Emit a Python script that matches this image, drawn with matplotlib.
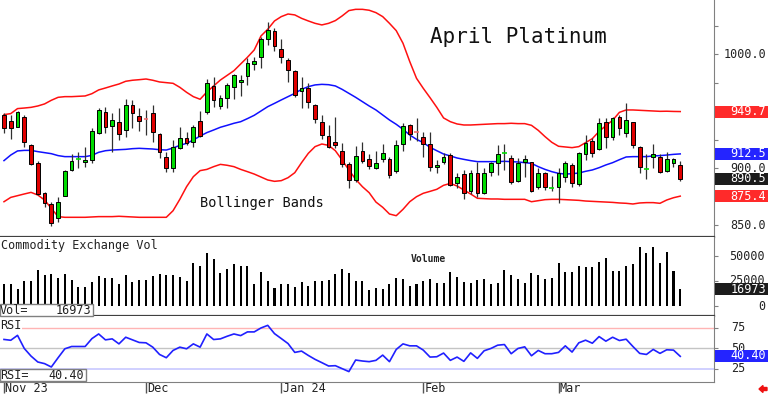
import numpy as np
import matplotlib.pyplot as plt
import matplotlib.transforms as mtransforms
from matplotlib.patches import Rectangle, FancyArrow

# April platinum futures, daily bars 1 Nov 2023 .. end of Mar 2024
opens = [946.7, 941.4, 936.5, 944.6, 920.3, 904.8, 878.4, 868.2, 855.9, 875.8,
         898.4, 907.7, 905.1, 907.1, 931.2, 949.0, 937.0, 940.8, 933.5, 955.2,
         945.8, 943.0, 948.7, 929.7, 910.1, 900.4, 917.4, 926.2, 923.3, 941.4,
         949.6, 972.2, 954.9, 961.9, 971.0, 975.4, 980.9, 991.2, 997.4, 1013.1,
         1020.8, 1004.7, 995.0, 985.4, 967.8, 970.1, 955.5, 940.2, 928.2, 923.3,
         915.3, 903.3, 889.6, 915.3, 907.7, 899.8, 907.7, 907.7, 897.5, 920.9,
         937.9, 932.0, 927.1, 920.9, 900.7, 905.1, 911.5, 886.7, 894.8, 880.2,
         896.0, 878.4, 896.3, 904.2, 913.4, 908.6, 888.7, 905.7, 905.1, 883.1,
         895.4, 882.7, 883.1, 892.5, 902.7, 885.8, 912.4, 924.1, 916.5, 940.8,
         927.1, 945.2, 931.2, 940.2, 918.9, 898.9, 910.1, 910.1, 897.5, 904.8,
         902.7]
highs = [948.1, 946.7, 950.2, 946.7, 920.9, 906.0, 879.3, 870.5, 874.3, 898.4,
         912.4, 914.5, 918.9, 935.0, 952.6, 954.0, 948.1, 952.6, 960.4, 959.9,
         952.6, 951.1, 955.5, 931.2, 914.5, 924.7, 936.5, 932.0, 937.9, 950.2,
         978.0, 979.8, 964.3, 974.5, 982.7, 981.8, 996.5, 997.9, 1015.5, 1028.7,
         1022.8, 1013.1, 996.5, 986.2, 980.4, 975.1, 956.4, 946.7, 937.9, 945.2,
         921.8, 905.1, 919.4, 923.3, 912.4, 915.3, 921.2, 909.5, 924.7, 939.4,
         938.5, 943.8, 932.0, 932.0, 907.1, 913.6, 913.6, 895.4, 898.4, 898.4,
         905.7, 899.8, 905.7, 920.3, 920.9, 911.5, 908.6, 911.5, 905.7, 899.8,
         896.9, 893.1, 899.8, 906.3, 904.2, 914.5, 929.1, 926.2, 943.8, 943.8,
         945.2, 946.7, 957.5, 940.8, 919.7, 912.4, 920.9, 912.4, 914.5, 908.6,
         906.3]
lows = [931.2, 925.3, 935.9, 918.9, 902.7, 876.4, 865.5, 849.4, 853.0, 875.5,
        897.2, 899.8, 901.3, 904.2, 930.0, 930.6, 913.9, 924.7, 927.1, 935.0,
        932.9, 929.1, 923.3, 908.6, 896.9, 896.3, 916.5, 920.3, 918.9, 927.1,
        947.6, 954.0, 952.0, 952.6, 960.7, 963.4, 973.1, 986.2, 987.7, 1008.2,
        1003.2, 992.1, 976.0, 962.8, 952.6, 953.1, 939.4, 925.3, 917.4, 917.4,
        901.3, 882.2, 888.1, 904.2, 899.2, 899.2, 905.7, 891.6, 896.0, 915.3,
        924.7, 924.1, 910.1, 897.8, 896.0, 903.3, 884.3, 882.2, 872.9, 877.0,
        874.9, 877.0, 893.4, 893.9, 898.4, 886.1, 888.1, 892.5, 879.3, 881.7,
        880.8, 880.2, 869.6, 888.1, 883.7, 884.6, 907.1, 909.5, 915.9, 917.4,
        924.7, 929.1, 927.7, 917.4, 895.4, 890.4, 899.8, 895.4, 896.9, 901.3,
        889.0]
closes = [935.6, 935.6, 949.0, 923.3, 903.6, 877.3, 869.1, 852.1, 870.2, 897.8,
          906.6, 908.0, 907.1, 932.6, 951.1, 936.5, 942.3, 929.7, 955.5, 948.1,
          941.7, 942.9, 931.5, 913.9, 900.4, 918.9, 926.2, 921.8, 936.5, 928.2,
          974.5, 959.9, 961.3, 973.1, 981.8, 977.4, 992.1, 994.1, 1013.7, 1021.4,
          1007.6, 997.4, 986.2, 964.3, 970.4, 958.4, 943.2, 929.1, 918.9, 920.3,
          903.3, 889.6, 911.0, 906.3, 902.2, 904.2, 913.6, 893.9, 920.0, 937.0,
          930.0, 931.6, 921.2, 901.3, 902.7, 910.1, 885.2, 892.5, 877.9, 896.0,
          878.4, 896.0, 904.8, 912.4, 913.6, 888.1, 904.8, 908.3, 880.2, 896.0,
          883.7, 882.8, 895.4, 904.2, 886.7, 913.0, 922.4, 913.6, 939.4, 927.1,
          943.8, 935.0, 942.3, 920.3, 900.7, 899.1, 912.1, 896.9, 907.7, 908.0,
          890.5]

bb_upper = [947.0, 947.9, 952.3, 952.8, 953.4, 954.6, 956.4, 959.6, 962.2, 962.8,
            962.8, 963.1, 963.4, 965.4, 968.7, 970.4, 972.2, 973.9, 976.3, 977.2,
            977.7, 978.3, 977.2, 975.7, 975.1, 974.5, 971.0, 966.6, 962.8, 960.5,
            966.9, 972.2, 977.4, 981.5, 985.6, 991.5, 997.4, 1003.8, 1016.1, 1022.0,
            1029.3, 1033.1, 1035.4, 1034.6, 1031.6, 1029.3, 1027.2, 1025.8, 1027.2, 1029.6,
            1033.7, 1038.4, 1039.5, 1039.5, 1038.7, 1036.6, 1033.1, 1027.2, 1020.8, 1009.7,
            993.6, 978.9, 970.1, 961.9, 953.4, 944.1, 940.8, 938.8, 937.9, 937.9,
            938.2, 938.5, 938.8, 939.1, 939.1, 939.4, 939.1, 939.1, 937.6, 933.2,
            927.7, 922.7, 919.2, 918.6, 918.0, 918.9, 922.4, 925.9, 932.3, 937.3,
            942.0, 949.0, 951.1, 951.1, 950.8, 950.5, 950.2, 949.9, 950.0, 949.8,
            949.7]
bb_mid = [906.6, 911.5, 915.1, 915.6, 915.6, 914.5, 913.6, 912.7, 911.0, 910.1,
          910.1, 910.1, 910.1, 911.2, 913.9, 915.3, 915.9, 916.2, 916.5, 917.1,
          917.4, 917.1, 916.8, 916.2, 915.9, 917.7, 920.0, 921.8, 924.7, 928.2,
          931.2, 933.5, 935.9, 937.6, 939.4, 940.8, 943.5, 946.4, 950.2, 954.0,
          956.9, 959.9, 962.8, 965.7, 969.2, 971.6, 973.1, 973.6, 973.3, 972.2,
          969.2, 965.7, 962.2, 958.4, 954.6, 951.1, 946.7, 942.3, 938.5, 934.1,
          929.1, 925.3, 922.4, 918.3, 915.3, 912.4, 910.7, 908.9, 907.7, 906.6,
          905.7, 905.7, 905.7, 905.7, 906.0, 905.7, 905.4, 904.8, 904.2, 901.3,
          898.9, 896.9, 895.4, 894.8, 895.1, 895.7, 897.2, 898.4, 900.4, 902.8,
          904.8, 907.4, 909.8, 910.1, 910.1, 910.1, 910.7, 911.0, 911.5, 912.1,
          912.5]
bb_lower = [870.5, 874.3, 875.8, 877.3, 878.7, 876.4, 872.0, 864.7, 857.4, 856.8,
            856.8, 856.8, 856.8, 857.1, 857.4, 857.4, 857.4, 857.7, 857.4, 857.1,
            856.8, 856.8, 856.8, 856.8, 856.8, 862.6, 872.6, 883.7, 892.5, 897.8,
            898.9, 901.3, 903.3, 902.5, 901.3, 898.9, 896.9, 894.8, 892.2, 889.6,
            888.4, 889.0, 891.6, 896.0, 904.8, 913.0, 918.9, 921.2, 920.0, 915.3,
            907.1, 898.4, 890.2, 883.7, 878.4, 870.2, 865.6, 859.7, 858.2, 863.8,
            870.5, 874.9, 877.9, 879.6, 881.4, 884.9, 886.6, 884.3, 880.8, 877.3,
            873.5, 873.2, 872.9, 872.9, 872.6, 872.6, 872.6, 872.6, 870.5, 871.4,
            872.3, 872.6, 872.6, 872.3, 872.0, 871.7, 871.1, 870.8, 870.5, 870.2,
            869.9, 869.4, 869.1, 868.5, 869.4, 869.7, 869.7, 869.1, 872.0, 874.0,
            875.4]

volume = [21700, 21700, 17000, 25000, 25000, 35700, 31000, 32300, 28000, 32300,
          26000, 19300, 19300, 24300, 30000, 28000, 28000, 22000, 30700, 24300,
          26300, 26300, 30000, 31700, 31000, 31000, 29000, 25000, 42700, 39700,
          52700, 47000, 32700, 37300, 42300, 40000, 40000, 21700, 34500, 25500,
          18000, 22500, 22500, 19000, 24000, 20500, 25500, 25000, 26000, 32000,
          37500, 33300, 25500, 24700, 15700, 18200, 17000, 22000, 28300, 27300,
          20300, 22000, 25000, 27300, 22700, 22700, 34300, 29300, 23700, 22700,
          26000, 27300, 21700, 23000, 36300, 31000, 27300, 23000, 33000, 31000,
          27000, 27700, 43300, 33700, 34300, 40000, 38700, 38700, 44300, 47700,
          35000, 35000, 40000, 41700, 59300, 53300, 59000, 43300, 54300, 35000,
          16973]

rsi = [61.0, 60.0, 66.0, 50.0, 40.7, 33.5, 31.5, 27.4, 38.7, 49.6,
       52.4, 52.4, 52.4, 62.0, 67.7, 60.5, 61.7, 55.6, 63.7, 60.5,
       57.3, 56.9, 51.6, 42.7, 38.7, 47.6, 51.6, 49.6, 55.6, 51.6,
       67.7, 60.9, 61.7, 64.9, 67.7, 65.7, 70.2, 70.2, 75.0, 78.2,
       68.1, 62.1, 56.0, 45.2, 46.8, 41.5, 36.7, 32.7, 28.6, 29.0,
       25.4, 21.8, 35.9, 34.7, 33.9, 35.5, 41.9, 33.9, 48.8, 55.6,
       53.2, 53.2, 48.0, 39.5, 39.9, 44.4, 35.5, 39.5, 34.3, 44.6,
       37.9, 47.2, 50.0, 54.0, 54.8, 43.6, 50.0, 52.0, 41.1, 47.6,
       43.6, 43.6, 45.2, 53.2, 45.6, 56.9, 60.1, 56.4, 64.5, 58.9,
       63.7, 59.7, 61.3, 52.4, 44.0, 42.7, 48.8, 44.0, 48.4, 48.0,
       40.4]

month_labels = ['Nov 23', 'Dec', 'Jan 24', 'Feb', 'Mar']
month_bars = [0, 21, 41, 62, 82]

W, H = 768, 394
MONO = 'DejaVu Sans Mono'
GREEN = '#00dc00'
RED = '#e00000'
TXT = '#222222'

fig = plt.figure(figsize=(W / 100, H / 100), dpi=100)


def px_rect(x0, y0, x1, y1):
    # pixel box measured from the top-left corner -> figure fraction rect
    return [x0 / W, 1 - y1 / H, (x1 - x0) / W, (y1 - y0) / H]


ax_p = fig.add_axes(px_rect(0, 0, 714, 237))
ax_v = fig.add_axes(px_rect(0, 237, 714, 316), sharex=ax_p)
ax_r = fig.add_axes(px_rect(0, 316, 714, 382), sharex=ax_p)

x = np.arange(len(closes))
o = np.array(opens)
c = np.array(closes)

# --- price panel
ax_p.vlines(x, lows, highs, color='#303030', lw=0.9, zorder=2)
up = c >= o
doji = np.abs(c - o) < 0.6
solid = ~doji
cols = np.where(up, GREEN, RED)
ax_p.bar(x[solid], (c - o)[solid], bottom=o[solid], width=0.55,
         color=cols[solid], edgecolor='black', linewidth=0.7, zorder=3)
ax_p.hlines(c[doji], x[doji] - 0.35, x[doji] + 0.35,
            colors=np.where(up, GREEN, '#f07070')[doji], lw=1.2, zorder=3)
ax_p.plot(x, bb_upper, color='#ff1010', lw=1.1, zorder=1)
ax_p.plot(x, bb_lower, color='#ff1010', lw=1.1, zorder=1)
ax_p.plot(x, bb_mid, color='#1010ff', lw=1.1, zorder=1)
ax_p.set_ylim(839.5, 1047.7)

# --- volume panel
ax_v.bar(x, volume, width=0.3, color='black')
ax_v.set_ylim(-10000, 69000)

# --- RSI panel
ax_r.axhline(75, color='#ffb4b4', lw=1)
ax_r.axhline(50, color='#c4c4c4', lw=1)
ax_r.axhline(25, color='#c8c8ff', lw=1.2)
ax_r.plot(x, rsi, color='#2020ff', lw=1.2)
ax_r.set_ylim(9.1, 89.6)

ax_p.set_xlim(-0.59, 104.99)

for ax in (ax_p, ax_v, ax_r):
    ax.spines['left'].set_visible(False)
    ax.spines['top'].set_visible(False)
    ax.spines['right'].set_color('#808080')
    ax.yaxis.tick_right()
    ax.tick_params(axis='y', direction='out', length=3, color='#808080',
                   labelright=False)
    ax.tick_params(axis='x', bottom=False, labelbottom=False)
ax_p.set_yticks(np.arange(850, 1050, 25))
ax_v.set_yticks([0, 25000, 50000])
ax_r.set_yticks([25, 50, 75])
for ax in (ax_p, ax_v):
    ax.spines['bottom'].set_color('#404040')
    ax.spines['bottom'].set_linewidth(1.6)
ax_r.spines['bottom'].set_color('#808080')
ax_r.set_xticks(month_bars)
ax_r.tick_params(axis='x', bottom=True, direction='out', length=8,
                 width=1, color='#555555')

# month labels
tb = mtransforms.blended_transform_factory(ax_r.transData, fig.transFigure)
for lab, k in zip(month_labels, month_bars):
    fig.text(k + 0.2, 1 - 388 / H, lab, transform=tb, ha='left', va='center',
             family=MONO, size=8.5, color=TXT)

# chart texts
fig.text(430 / W, 1 - 43 / H, 'April Platinum', family=MONO, size=15,
         color='#111111', va='baseline')
fig.text(200 / W, 1 - 207 / H, 'Bollinger Bands', family=MONO, size=9.8,
         color='#111111', va='baseline')
fig.text(1 / W, 1 - 249 / H, 'Commodity Exchange Vol', family=MONO, size=8.5,
         color=TXT, va='baseline')
fig.text(411 / W, 1 - 262 / H, 'Volume', family=MONO, size=7, color=TXT,
         va='baseline', weight='bold')
fig.text(0, 1 - 329 / H, 'RSI', family=MONO, size=8.5, color=TXT,
         va='baseline', bbox=dict(fc='white', ec='none', pad=0.5))


def fig_y(ax, v):
    return fig.transFigure.inverted().transform(ax.transData.transform((0, v)))[1]


# value boxes at the bottom-left of the lower panels
for y0, y1, x1, lab, val in [(304, 316, 93, 'Vol=', '16973'),
                             (369, 381, 86, 'RSI=', '40.40')]:
    fig.add_artist(Rectangle((0, 1 - y1 / H), x1 / W, (y1 - y0) / H,
                             transform=fig.transFigure, fc='white',
                             ec='#808080', lw=1, zorder=5))
    fig.text(0, 1 - (y1 - 2) / H, lab, family=MONO, size=8.5, color=TXT,
             va='baseline', zorder=6)
    fig.text((x1 - 2) / W, 1 - (y1 - 2) / H, val, family=MONO, size=8.5,
             color=TXT, va='baseline', ha='right', zorder=6)

# right-hand scale labels
for v, s in [(1000, '1000.0'), (900, '900.0'), (850, '850.0')]:
    fig.text(766 / W, fig_y(ax_p, v), s, family=MONO, size=8.5, color=TXT,
             ha='right', va='center', zorder=5)
for v, s in [(50000, '50000'), (25000, '25000'), (0, '0')]:
    fig.text(765 / W, fig_y(ax_v, v), s, family=MONO, size=8.5, color=TXT,
             ha='right', va='center', zorder=5)
for v, s in [(75, '75'), (50, '50'), (25, '25')]:
    fig.text(731 / W, fig_y(ax_r, v), s, family=MONO, size=8.5, color=TXT,
             ha='left', va='center', zorder=5)

# last-value markers
markers = [(ax_p, bb_upper[-1], '949.7', '#ff2a2a'),
           (ax_p, bb_mid[-1], '912.5', '#2424ff'),
           (ax_p, closes[-1], '890.5', '#1c1c1c'),
           (ax_p, bb_lower[-1], '875.4', '#ff2a2a'),
           (ax_v, volume[-1], '16973', '#1c1c1c'),
           (ax_r, 40.9, '40.40', '#2424ff')]
for ax, v, s, col in markers:
    yc = fig_y(ax, v)
    fig.add_artist(Rectangle((715 / W, yc - 6 / H), 53 / W, 12 / H,
                             transform=fig.transFigure, fc=col, ec='none',
                             zorder=6))
    fig.text(766 / W, yc, s, family=MONO, size=8.5, color='white',
             ha='right', va='center', zorder=7)

fig.add_artist(FancyArrow(767 / W, 1 - 389 / H, -8 / W, 0, width=3 / H,
                          head_width=7 / H, head_length=4 / W,
                          length_includes_head=True, transform=fig.transFigure,
                          color='#ee1111', zorder=6))

fig.savefig('out.png', dpi=100)
